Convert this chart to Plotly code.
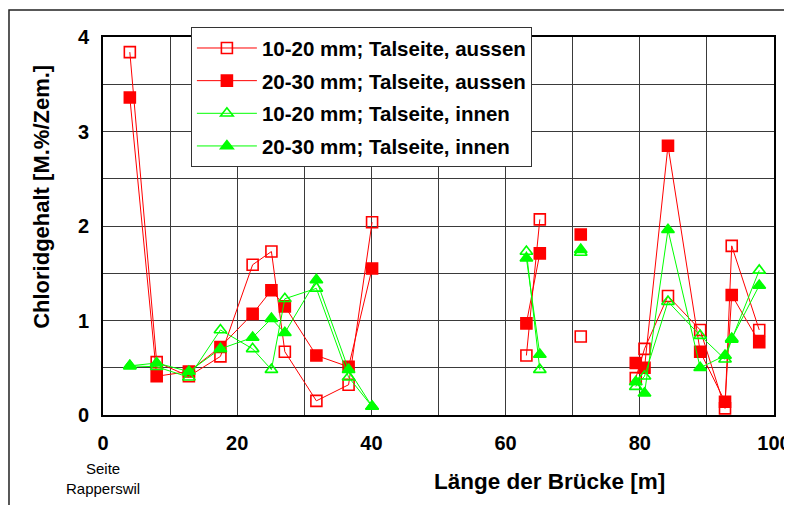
import plotly.graph_objects as go

# Positions along the bridge [m]; None = break in the line
pos_m = [4.0, 8.0, 12.8, 17.5, 22.3, 25.1, 27.1, 31.8, 36.6, 40.1, None,
         63.1, 65.1, None, 71.2, None, 79.4, 80.7, 84.2, 89.0, 92.7, 93.7, 97.8]

aussen_10_20 = [3.84, 0.56, 0.41, 0.62, 1.59, 1.73, 0.67, 0.15, 0.32, 2.04, None,
                0.63, 2.07, None, 0.83, None, 0.39, 0.70, 1.26, 0.90, 0.07, 1.79, 0.90]
aussen_20_30 = [3.36, 0.41, 0.46, 0.72, 1.07, 1.32, 1.15, 0.63, 0.51, 1.55, None,
                0.97, 1.71, None, 1.91, None, 0.55, 0.50, 2.85, 0.67, 0.14, 1.27, 0.77]
innen_10_20 = [0.52, 0.51, 0.40, 0.90, 0.70, 0.48, 1.23, 1.34, 0.40, 0.09, None,
               1.73, 0.48, None, 1.72, None, 0.30, 0.41, 1.20, 0.84, 0.59, 0.80, 1.53]
innen_20_30 = [0.52, 0.55, 0.46, 0.70, 0.82, 1.02, 0.87, 1.43, 0.48, 0.09, None,
               1.66, 0.64, None, 1.75, None, 0.35, 0.23, 1.96, 0.50, 0.63, 0.81, 1.37]

names = ["10-20 mm; Talseite, aussen", "20-30 mm; Talseite, aussen",
         "10-20 mm; Talseite, innen", "20-30 mm; Talseite, innen"]

x_ticks = [0, 20, 40, 60, 80, 100]
y_ticks = [0, 1, 2, 3, 4]

RED = "#FF0000"
GREEN = "#00FF00"
FONT = "Liberation Sans, Arial, sans-serif"

series = [
    (names[0], aussen_10_20, RED, "square-open"),
    (names[1], aussen_20_30, RED, "square"),
    (names[2], innen_10_20, GREEN, "triangle-up-open"),
    (names[3], innen_20_30, GREEN, "triangle-up"),
]

fig = go.Figure()
for i, (nm, ys, col, sym) in enumerate(series):
    fig.add_trace(go.Scatter(
        x=pos_m, y=ys, name=nm, mode="lines+markers",
        line=dict(color=col, width=1),
        marker=dict(symbol=sym, size=11, color=col,
                    line=dict(color=col, width=1.6)),
        legendgroup=f"g{i}", connectgaps=False,
    ))

grid_col = "#3a3a3a"
fig.update_xaxes(
    range=[0, 100], tickvals=x_ticks, ticktext=[str(v) for v in x_ticks],
    showgrid=True, gridcolor=grid_col, gridwidth=1,
    minor=dict(dtick=10, tick0=0, showgrid=True, gridcolor=grid_col, gridwidth=1),
    showline=True, linecolor="black", linewidth=2, mirror=True,
    ticks="", ticklabelstandoff=9, zeroline=False, automargin=False,
    tickfont=dict(family=FONT, size=20, color="black", weight="bold"),
)
fig.update_yaxes(
    range=[0, 4], tickvals=y_ticks, ticktext=[str(v) for v in y_ticks],
    showgrid=True, gridcolor=grid_col, gridwidth=1,
    minor=dict(dtick=0.5, tick0=0, showgrid=True, gridcolor=grid_col, gridwidth=1),
    showline=True, linecolor="black", linewidth=2, mirror=True,
    ticks="", ticklabelstandoff=8, zeroline=False, automargin=False,
    tickfont=dict(family=FONT, size=20, color="black", weight="bold"),
)

fig.update_layout(
    width=784, height=497,
    margin=dict(l=95, r=18, t=29, b=90, autoexpand=False),
    paper_bgcolor="white", plot_bgcolor="white",
    showlegend=True,
    legend=dict(
        x=0.131, y=1.026, xanchor="left", yanchor="top",
        bgcolor="white", bordercolor="#333333", borderwidth=1,
        font=dict(family=FONT, size=20.5, color="black", weight="bold"),
        tracegroupgap=3, itemwidth=60,
    ),
    annotations=[
        dict(text="Chloridgehalt [M.%/Zem.]", xref="paper", yref="paper",
             x=-0.091, y=0.577, textangle=-90, showarrow=False,
             xanchor="center", yanchor="middle",
             font=dict(family=FONT, size=22, color="black", weight="bold")),
        dict(text="Länge der Brücke [m]", xref="paper", yref="paper",
             x=0.666, y=-0.175, showarrow=False, xanchor="center", yanchor="middle",
             font=dict(family=FONT, size=22.5, color="black", weight="bold")),
        dict(text="Seite<br>Rapperswil", xref="paper", yref="paper",
             x=0.0, y=-0.167, showarrow=False, xanchor="center", yanchor="middle",
             align="center",
             font=dict(family=FONT, size=15, color="black")),
    ],
    shapes=[
        dict(type="rect", xref="paper", yref="paper",
             x0=-0.1401, x1=1.2, y0=-0.4, y1=1.0714,
             line=dict(color="#222222", width=1.5), layer="below"),
    ],
)

fig.write_html("out.html")
